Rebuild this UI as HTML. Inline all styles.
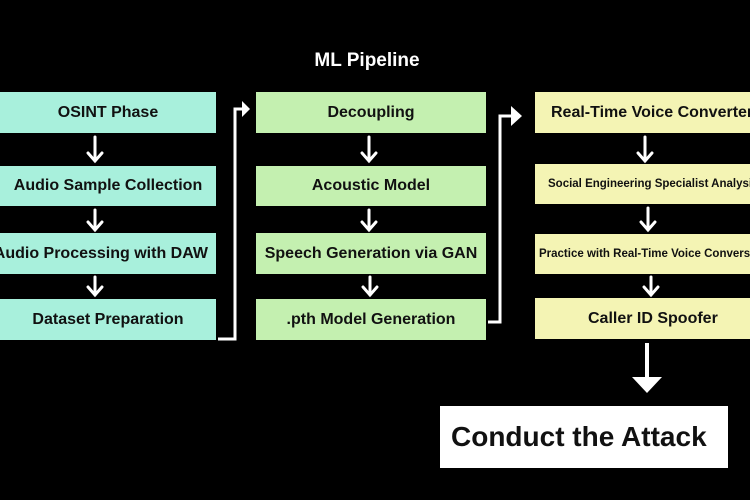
<!DOCTYPE html>
<html><head><style>
body{margin:0;width:750px;height:500px;background:#000;position:relative;overflow:hidden;font-family:"Liberation Sans",sans-serif;font-weight:bold;}
.b{position:absolute;display:flex;align-items:center;justify-content:center;white-space:nowrap;color:#111;font-size:16px;overflow:hidden;}
.c1{left:0;width:216px;background:#a8f0dc;}
.c2{left:256px;width:230px;background:#c4f0b0;}
.c3{left:535px;width:230px;background:#f4f4b4;}
.sm{font-size:11.5px;}
</style></head><body>
<div style="position:absolute;left:0;width:734px;top:50px;text-align:center;color:#fff;font-size:19px;">ML Pipeline</div>

<div class="b c1" style="top:92px;height:41px">OSINT Phase</div>
<div class="b c1" style="top:166px;height:40px">Audio Sample Collection</div>
<div class="b c1" style="top:233px;height:41px;justify-content:flex-end;padding-right:8px;box-sizing:border-box">Audio Processing with DAW</div>
<div class="b c1" style="top:299px;height:41px">Dataset Preparation</div>

<div class="b c2" style="top:92px;height:41px">Decoupling</div>
<div class="b c2" style="top:166px;height:40px">Acoustic Model</div>
<div class="b c2" style="top:233px;height:41px">Speech Generation via GAN</div>
<div class="b c2" style="top:299px;height:41px">.pth Model Generation</div>

<div class="b c3" style="top:92px;height:41px;justify-content:flex-start;padding-left:16px;box-sizing:border-box">Real-Time Voice Converter</div>
<div class="b c3 sm" style="top:164px;height:40px;justify-content:flex-start;padding-left:13px;box-sizing:border-box">Social Engineering Specialist Analysis</div>
<div class="b c3 sm" style="top:234px;height:40px;justify-content:flex-start;padding-left:4px;box-sizing:border-box">Practice with Real-Time Voice Conversion</div>
<div class="b c3" style="top:298px;height:41px;justify-content:flex-start;padding-left:53px;box-sizing:border-box">Caller ID Spoofer</div>

<div class="b" style="left:440px;top:406px;width:288px;height:62px;background:#fff;color:#111;font-size:28px;justify-content:flex-start;padding-left:11px;box-sizing:border-box">Conduct the Attack</div>

<svg width="750" height="500" style="position:absolute;left:0;top:0" fill="none" stroke="#fff" stroke-width="3">
<g stroke-linecap="round">
<path d="M95 137v24M88 153l7 8 7-8"/>
<path d="M95 210v20M88 222l7 8 7-8"/>
<path d="M95 277v18M88 287l7 8 7-8"/>
<path d="M369 137v24M362 153l7 8 7-8"/>
<path d="M369 210v20M362 222l7 8 7-8"/>
<path d="M370 277v18M363 287l7 8 7-8"/>
<path d="M645 137v24M638 153l7 8 7-8"/>
<path d="M648 208v22M641 222l7 8 7-8"/>
<path d="M651 277v18M644 287l7 8 7-8"/>
</g>
<path d="M218 339H235V109H243"/>
<path d="M488 322H500V116H512"/>
<path d="M647 343V380" stroke-width="4"/>
</svg>
<svg width="750" height="500" style="position:absolute;left:0;top:0" fill="#fff">
<polygon points="242,101 250,109 242,117"/>
<polygon points="511,106 522,116 511,126"/>
<polygon points="632,377 662,377 647,393"/>
</svg>
</body></html>
